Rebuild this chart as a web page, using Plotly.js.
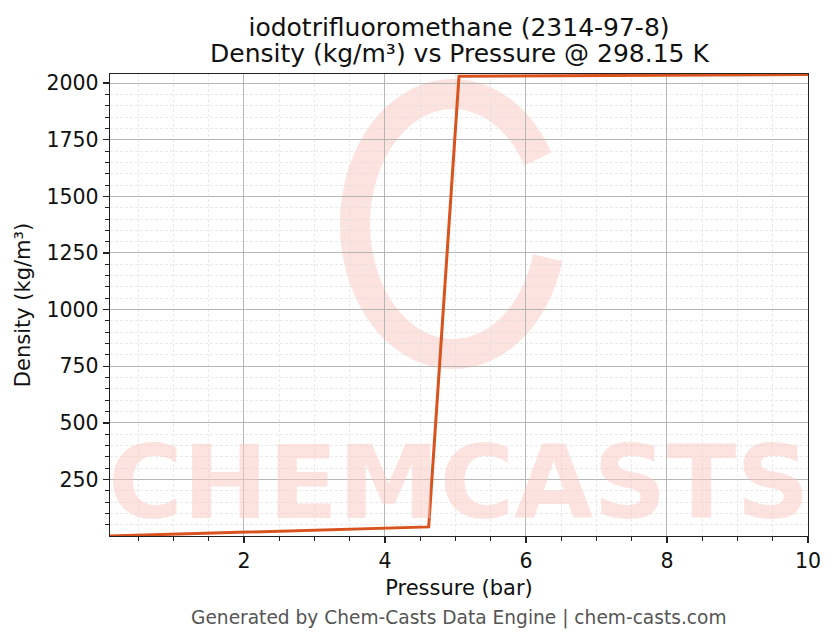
<!DOCTYPE html>
<html>
<head>
<meta charset="utf-8">
<script src="https://cdn.plot.ly/plotly-3.0.1.min.js"></script>
<style>html,body{margin:0;padding:0;background:#fff;}#chart{width:836px;height:644px;}</style>
</head>
<body>
<div id="chart"></div>
<script>
const pressure = [0.1, 4.62, 5.05, 10];
const density = [0.8, 41, 2030, 2038];
const xTicks = [2, 4, 6, 8, 10];
const yTicks = [250, 500, 750, 1000, 1250, 1500, 1750, 2000];
const titleLine1 = 'iodotrifluoromethane (2314-97-8)';
const titleLine2 = 'Density (kg/m³) vs Pressure @ 298.15 K';

const font = "DejaVu Sans, sans-serif";
const wm = 'rgba(250,200,192,0.5)';

// watermark ring (decoration) as an open elliptical arc in paper coords
function ringPath() {
  const cx = 0.4914, cy = 0.6753, rx = 0.1404, ry = 0.2814;
  let p = '';
  for (let a = 30; a <= 345; a += 5) {
    const t = a * Math.PI / 180;
    const x = cx + rx * Math.cos(t), y = cy + ry * Math.sin(t);
    p += (p ? ' L ' : 'M ') + x.toFixed(4) + ',' + y.toFixed(4);
  }
  return p;
}

const trace = {
  x: pressure, y: density, mode: 'lines', type: 'scatter',
  line: {color: '#d9531e', width: 3}, hoverinfo: 'skip'
};
const axisCommon = {
  showline: true, mirror: true, linecolor: '#222', linewidth: 1.3,
  ticks: 'outside', ticklen: 6, tickwidth: 1.3, tickcolor: '#222',
  showgrid: true, gridcolor: '#b0b0b0', gridwidth: 0.9, zeroline: false,
  tickfont: {family: font, size: 20.5, color: '#111'}
};
const minorCommon = {ticks: 'outside', ticklen: 3.5, tickwidth: 1, tickcolor: '#222',
  showgrid: true, gridcolor: '#dcdcdc', griddash: '3px,2px', gridwidth: 0.6};
const layout = {
  width: 836, height: 644,
  margin: {l: 110, r: 28, t: 74, b: 108},
  paper_bgcolor: '#fff', plot_bgcolor: '#fff',
  showlegend: false,
  title: {text: titleLine1, xref: 'paper', x: 0.5, xanchor: 'center',
          yref: 'container', y: 1 - 27 / 644, yanchor: 'middle',
          font: {family: font, size: 25, color: '#111'}},
  xaxis: Object.assign({}, axisCommon, {
    range: [0.1, 10], tickvals: xTicks, ticktext: xTicks.map(String),
    title: {text: 'Pressure (bar)', font: {family: font, size: 21, color: '#111'}, standoff: 8},
    minor: Object.assign({dtick: 0.5, tick0: 0}, minorCommon)
  }),
  yaxis: Object.assign({}, axisCommon, {
    range: [0.8, 2040], tickvals: yTicks, ticktext: yTicks.map(String),
    title: {text: 'Density (kg/m³)', font: {family: font, size: 21, color: '#111'}, standoff: 10},
    minor: Object.assign({dtick: 50, tick0: 0}, minorCommon)
  }),
  shapes: [
    {type: 'path', xref: 'paper', yref: 'paper', layer: 'below', path: ringPath(),
     line: {color: wm, width: 30}}
  ],
  annotations: [
    {text: titleLine2, xref: 'paper', yref: 'paper', x: 0.5, y: (536 - 53) / 462,
     xanchor: 'center', yanchor: 'middle', showarrow: false,
     font: {family: font, size: 25, color: '#111'}},
    {text: '<b>CHEMCASTS</b>', xref: 'paper', yref: 'paper', x: 0.5, y: (536 - 482) / 462,
     xanchor: 'center', yanchor: 'middle', showarrow: false,
     font: {family: font, size: 102, color: wm}},
    {text: 'Generated by Chem-Casts Data Engine | chem-casts.com', xref: 'paper', yref: 'paper',
     x: 0.5, y: (536 - 618) / 462, xanchor: 'center', yanchor: 'middle', showarrow: false,
     font: {family: font, size: 18.6, color: '#555'}}
  ]
};
Plotly.newPlot('chart', [trace], layout, {displayModeBar: false, staticPlot: true});
</script>
</body>
</html>
